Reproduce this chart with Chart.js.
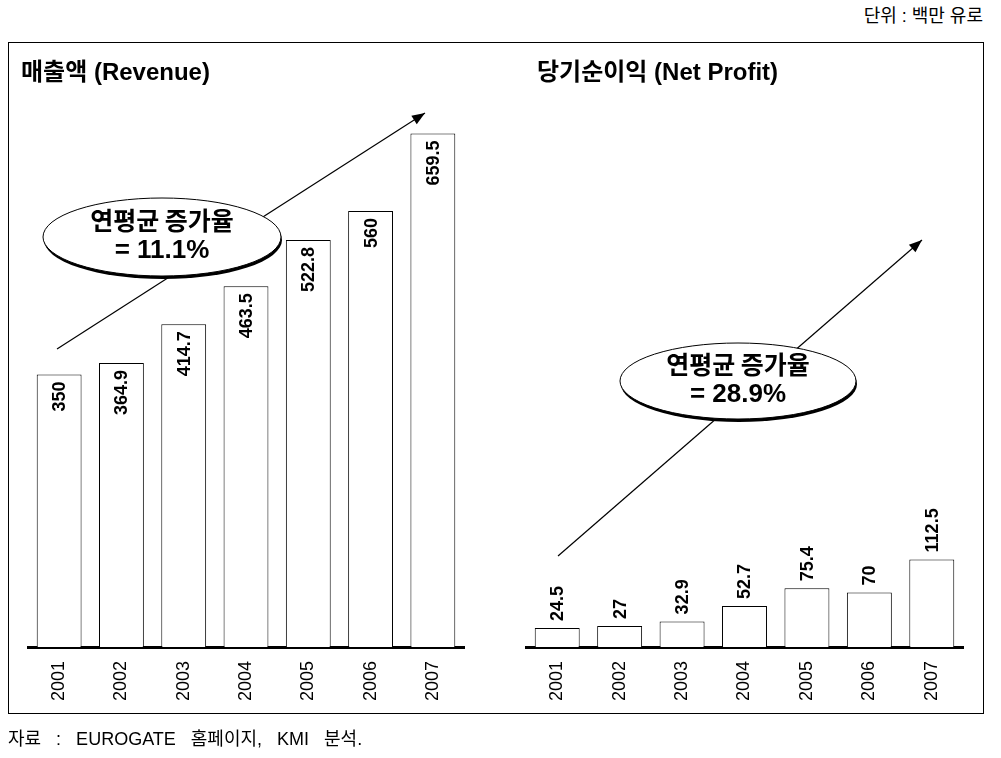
<!DOCTYPE html>
<html lang="ko">
<head>
<meta charset="utf-8">
<script src="https://cdn.jsdelivr.net/npm/chart.js@4.4.1/dist/chart.umd.min.js"></script>
<style>
    body { margin: 0; background: #fff; width: 1001px; height: 758px; position: relative; overflow: hidden;
           font-family: "Liberation Sans", "Noto Sans CJK KR", sans-serif; color: #000; }
    #frame { position: absolute; left: 8px; top: 42px; width: 976px; height: 672px; border: 1px solid #000; box-sizing: border-box; }
    canvas { position: absolute; top: 0; }
    #revenueChart { left: 0; }
    #profitChart { left: 500px; }
    .title { position: absolute; top: 58px; font-weight: bold; font-size: 24px; line-height: 28px; white-space: nowrap; }
    #unit { position: absolute; right: 18px; top: 1px; font-size: 18px; }
    #source { position: absolute; left: 8px; top: 724px; font-size: 18px; word-spacing: 10px; white-space: nowrap; }
</style>
</head>
<body>
<div id="unit">단위 : 백만 유로</div>
<div id="frame"></div>
<canvas id="revenueChart" width="500" height="758"></canvas>
<canvas id="profitChart" width="501" height="758"></canvas>
<div class="title" style="left:21px">매출액 (Revenue)</div>
<div class="title" style="left:537px">당기순이익 (Net Profit)</div>
<div id="source">자료 : EUROGATE 홈페이지, KMI 분석.</div>

<script>
// 데이터 (단위: 백만 유로)
const years = ['2001', '2002', '2003', '2004', '2005', '2006', '2007'];
const revenue = [350, 364.9, 414.7, 463.5, 522.8, 560, 659.5];
const netProfit = [24.5, 27, 32.9, 52.7, 75.4, 70, 112.5];
const revenueRate = '11.1%';
const profitRate = '28.9%';
const yMax = 700;

// 막대 값 라벨 + 증가 화살표 + 타원 말풍선
const barNotes = {
    id: 'barNotes',
    afterDatasetsDraw(chart) {
        const opts = chart.options.plugins.barNotes;
        const ctx = chart.ctx;
        const meta = chart.getDatasetMeta(0);
        const values = chart.data.datasets[0].data;

        ctx.save();
        ctx.fillStyle = '#000';
        ctx.font = 'bold 18px "Liberation Sans", Arial, sans-serif';
        ctx.textBaseline = 'middle';
        meta.data.forEach(function(bar, i) {
            ctx.save();
            if (opts.inside) {
                ctx.translate(bar.x, bar.y + 7);
                ctx.rotate(-Math.PI / 2);
                ctx.textAlign = 'right';
            } else {
                ctx.translate(bar.x, bar.y - 7);
                ctx.rotate(-Math.PI / 2);
                ctx.textAlign = 'left';
            }
            ctx.fillText(String(values[i]), 0, 1);
            ctx.restore();
        });

        // 화살표
        const [x1, y1, x2, y2] = opts.arrow;
        ctx.strokeStyle = '#000';
        ctx.lineWidth = 1.2;
        ctx.beginPath();
        ctx.moveTo(x1, y1);
        ctx.lineTo(x2, y2);
        ctx.stroke();
        const ang = Math.atan2(y2 - y1, x2 - x1);
        ctx.beginPath();
        ctx.moveTo(x2, y2);
        ctx.lineTo(x2 - 13 * Math.cos(ang) + 5 * Math.sin(ang), y2 - 13 * Math.sin(ang) - 5 * Math.cos(ang));
        ctx.lineTo(x2 - 13 * Math.cos(ang) - 5 * Math.sin(ang), y2 - 13 * Math.sin(ang) + 5 * Math.cos(ang));
        ctx.closePath();
        ctx.fill();

        // 타원 (그림자 포함)
        const e = opts.ellipse;
        ctx.fillStyle = '#000';
        ctx.beginPath();
        ctx.ellipse(e.cx + 1, e.cy + 3, e.rx, e.ry, 0, 0, Math.PI * 2);
        ctx.fill();
        ctx.fillStyle = '#fff';
        ctx.beginPath();
        ctx.ellipse(e.cx, e.cy, e.rx, e.ry, 0, 0, Math.PI * 2);
        ctx.fill();
        ctx.lineWidth = 1;
        ctx.stroke();

        ctx.fillStyle = '#000';
        ctx.textAlign = 'center';
        ctx.font = 'bold 25px "Noto Sans CJK KR", sans-serif';
        ctx.fillText('연평균 증가율', e.cx, e.cy - 17);
        ctx.font = 'bold 26px "Liberation Sans", Arial, sans-serif';
        ctx.fillText('= ' + opts.rate, e.cx, e.cy + 14);
        ctx.restore();
    }
};

function makeChart(canvasId, values, notes, padLeft, padRight) {
    return new Chart(document.getElementById(canvasId), {
        type: 'bar',
        data: {
            labels: years,
            datasets: [{
                data: values,
                backgroundColor: '#fff',
                borderColor: '#000',
                borderWidth: 1,
                borderSkipped: 'bottom',
                barPercentage: 0.72,
                categoryPercentage: 1
            }]
        },
        options: {
            responsive: false,
            animation: false,
            events: [],
            layout: { padding: { left: padLeft, right: padRight, top: 102, bottom: 51 } },
            plugins: { legend: { display: false }, tooltip: { enabled: false }, barNotes: notes },
            scales: {
                x: {
                    grid: { display: false, drawTicks: false },
                    border: { display: true, color: '#000', width: 3 },
                    ticks: { color: '#000', font: { family: '"Liberation Sans", Arial, sans-serif', size: 18 },
                             minRotation: 90, maxRotation: 90, padding: 14 },
                    afterFit: function(scale) { scale.height = 60; }
                },
                y: { display: false, min: 0, max: yMax }
            }
        },
        plugins: [barNotes]
    });
}

makeChart('revenueChart', revenue, {
    inside: true,
    arrow: [57, 349, 425, 113],
    ellipse: { cx: 162, cy: 237, rx: 119, ry: 39 },
    rate: revenueRate
}, 28, 36);

makeChart('profitChart', netProfit, {
    inside: false,
    arrow: [58, 556, 422, 240],
    ellipse: { cx: 238, cy: 381, rx: 118, ry: 38 },
    rate: profitRate
}, 26, 38);
</script>
</body>
</html>
